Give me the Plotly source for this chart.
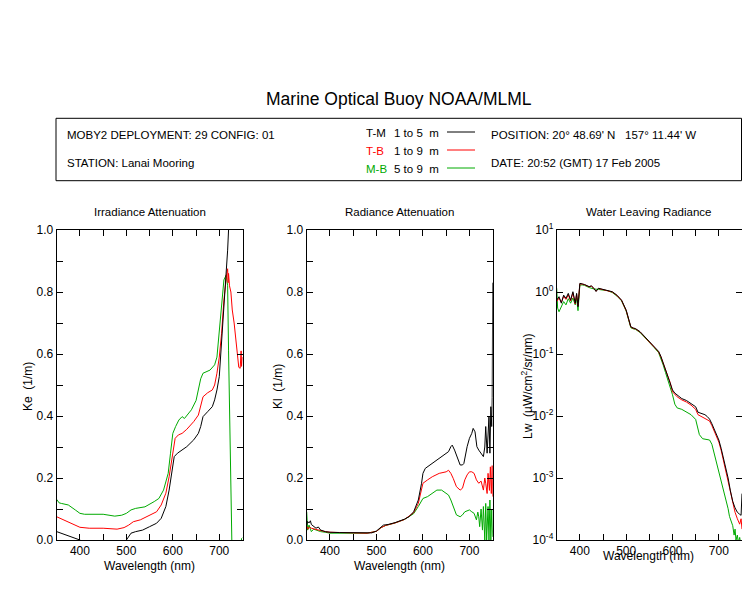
import plotly.graph_objects as go

# ---------------- data ----------------
# Irradiance attenuation Ke (1/m)
ke_wl_tm = [350, 360, 370, 380, 390, 400, 410, 430, 460, 490, 500, 505, 510, 520, 535, 550, 565, 575, 585, 592,
            597, 600, 603, 610, 620, 630, 645, 655, 660, 665, 675, 685, 690, 695, 700, 705, 710, 713, 716, 718,
            720, 723, 730, 740, 750]
ke_tm = [0.027, 0.022, 0.016, 0.011, 0.005, 0.0, -0.01, -0.02, -0.02, -0.01, 0.0, 0.012, 0.022, 0.027, 0.032,
         0.043, 0.054, 0.07, 0.108, 0.161, 0.215, 0.247, 0.269, 0.28, 0.29, 0.301, 0.323, 0.344, 0.366, 0.398,
         0.414, 0.43, 0.452, 0.484, 0.527, 0.634, 0.742, 0.817, 0.882, 0.935, 1.0, 1.1, 1.2, 1.2, 1.2]

ke_wl_tb = [350, 360, 370, 380, 390, 400, 420, 450, 480, 495, 505, 515, 530, 550, 565, 575, 585, 592, 597, 600,
            605, 612, 620, 630, 645, 655, 660, 665, 675, 685, 690, 695, 700, 705, 710, 713, 716, 718, 719, 720,
            722, 725, 728, 732, 736, 740, 742, 745, 747, 748, 750]
ke_tb = [0.075, 0.068, 0.061, 0.055, 0.048, 0.041, 0.038, 0.038, 0.035, 0.040, 0.048, 0.059, 0.065, 0.081, 0.091,
         0.113, 0.151, 0.204, 0.258, 0.290, 0.328, 0.339, 0.344, 0.357, 0.382, 0.403, 0.430, 0.462, 0.475, 0.484,
         0.500, 0.538, 0.590, 0.667, 0.774, 0.828, 0.860, 0.875, 0.83, 0.86, 0.82, 0.80, 0.742, 0.700, 0.645,
         0.590, 0.557, 0.554, 0.61, 0.56, 0.59]

ke_wl_mb = [350, 355, 360, 375, 390, 400, 410, 450, 475, 490, 500, 510, 520, 540, 560, 570, 580, 590, 595, 600,
            606, 613, 620, 625, 640, 650, 660, 665, 680, 690, 695, 700, 705, 710, 715, 718, 720, 722, 725, 727,
            729, 745, 748, 750]
ke_mb = [0.131, 0.12, 0.118, 0.113, 0.097, 0.086, 0.083, 0.083, 0.077, 0.08, 0.086, 0.097, 0.102, 0.107, 0.124,
         0.134, 0.161, 0.215, 0.28, 0.344, 0.366, 0.387, 0.398, 0.392, 0.42, 0.45, 0.52, 0.538, 0.548, 0.565,
         0.59, 0.667, 0.763, 0.839, 0.855, 0.82, 0.61, 0.43, 0.129, 0.0, -0.05, -0.05, 0.005, 0.008]

# Radiance attenuation Kl (1/m)
kl_wl_tm = [350, 352, 355, 358, 360, 365, 370, 375, 380, 390, 400, 420, 450, 470, 480, 490, 500, 510, 515, 525,
            540, 560, 570, 580, 590, 597, 600, 605, 615, 625, 640, 655, 660, 663, 668, 675, 680, 685, 688, 695,
            700, 705, 708, 712, 716, 720, 725, 730, 733, 735, 738, 740, 742, 744, 746, 748, 749, 750]
kl_tm = [0.048, 0.06, 0.055, 0.062, 0.05, 0.045, 0.038, 0.042, 0.032, 0.027, 0.025, 0.024, 0.024, 0.022, 0.022,
         0.023, 0.029, 0.04, 0.048, 0.05, 0.056, 0.067, 0.075, 0.091, 0.129, 0.183, 0.215, 0.231, 0.242, 0.253,
         0.269, 0.285, 0.301, 0.306, 0.29, 0.258, 0.242, 0.242, 0.247, 0.301, 0.328, 0.344, 0.36, 0.349, 0.301,
         0.29, 0.28, 0.269, 0.30, 0.366, 0.28, 0.323, 0.398, 0.28, 0.43, 0.366, 0.46, 0.83]

kl_wl_tb = [350, 353, 356, 360, 370, 380, 390, 400, 450, 480, 500, 510, 520, 540, 560, 580, 590, 597, 600, 610,
            620, 635, 650, 655, 660, 665, 672, 680, 685, 690, 695, 700, 705, 710, 715, 720, 725, 730, 733, 735,
            738, 740, 743, 745, 747, 749, 750]
kl_tb = [0.045, 0.035, 0.042, 0.038, 0.034, 0.03, 0.027, 0.025, 0.023, 0.022, 0.028, 0.04, 0.047, 0.055, 0.066,
         0.088, 0.118, 0.161, 0.183, 0.194, 0.204, 0.215, 0.22, 0.225, 0.215, 0.199, 0.172, 0.161, 0.167, 0.194,
         0.21, 0.22, 0.22, 0.215, 0.194, 0.183, 0.19, 0.161, 0.20, 0.183, 0.15, 0.215, 0.16, 0.236, 0.15, 0.24,
         0.14]

kl_wl_mb = [350, 351, 352, 355, 358, 360, 365, 370, 380, 390, 400, 450, 480, 500, 510, 520, 540, 560, 580, 590,
            597, 600, 610, 620, 630, 640, 650, 655, 660, 665, 672, 680, 685, 690, 695, 700, 705, 710, 715, 718,
            720, 722, 725, 728, 730, 733, 735, 737, 740, 742, 744, 746, 748, 750]
kl_mb = [0.091, 0.06, 0.032, 0.048, 0.03, 0.027, 0.035, 0.032, 0.027, 0.025, 0.022, 0.022, 0.022, 0.028, 0.04,
         0.047, 0.055, 0.066, 0.085, 0.108, 0.129, 0.134, 0.14, 0.15, 0.161, 0.161, 0.15, 0.145, 0.129, 0.108,
         0.081, 0.075, 0.081, 0.091, 0.095, 0.097, 0.091, 0.086, 0.065, 0.09, 0.075, 0.043, 0.10, 0.032, 0.108,
         0.0, 0.118, 0.0, 0.108, 0.0, 0.129, 0.0, 0.097, 0.01]

# Water leaving radiance Lw (uW/cm^2/sr/nm)
lw_wl = [350, 355, 360, 365, 370, 375, 380, 385, 390, 393, 396, 398, 400, 405, 410, 420, 425, 430, 435, 440,
         450, 460, 470, 480, 490, 500, 505, 510, 515, 520, 530, 540, 550, 560, 570, 575, 580, 585, 590, 595,
         600, 605, 610, 620, 630, 640, 650, 655, 660, 670, 675, 680, 685, 690, 695, 700, 705, 710, 715, 720,
         725, 730, 735, 740, 745, 748, 750]
lw_tm = [0.74, 0.84, 0.66, 0.89, 0.79, 0.95, 0.74, 1.01, 0.66, 0.95, 0.58, 0.89, 1.38, 1.35, 1.32, 1.22, 1.26,
         1.15, 1.02, 1.15, 1.10, 1.08, 1.01, 0.89, 0.74, 0.51, 0.376, 0.275, 0.263, 0.257, 0.229, 0.191, 0.158,
         0.132, 0.110, 0.0912, 0.0708, 0.0550, 0.0427, 0.0355, 0.0263, 0.0234, 0.0219, 0.0191, 0.0178, 0.0158,
         0.0141, 0.0115, 0.0112, 0.0105, 0.0098, 0.0089, 0.0075, 0.0062, 0.0051, 0.0041, 0.0030, 0.0021,
         0.0014, 0.0010, 0.00062, 0.00042, 0.00033, 0.00028, 0.00026, 0.00025, 0.00056]
lw_tb = [0.70, 0.80, 0.68, 0.85, 0.76, 0.90, 0.72, 0.97, 0.64, 0.92, 0.60, 0.86, 1.36, 1.34, 1.31, 1.21, 1.24,
         1.14, 1.03, 1.14, 1.09, 1.07, 1.00, 0.88, 0.73, 0.50, 0.37, 0.272, 0.260, 0.254, 0.226, 0.189, 0.156,
         0.130, 0.108, 0.0895, 0.0695, 0.0540, 0.0420, 0.0345, 0.0245, 0.0222, 0.0204, 0.0182, 0.0168, 0.0150,
         0.0128, 0.0105, 0.0100, 0.0093, 0.0088, 0.0083, 0.0070, 0.0058, 0.0047, 0.0038, 0.0028, 0.0019,
         0.0013, 0.00090, 0.00057, 0.00038, 0.00028, 0.00022, 0.00018, 0.00022, 0.00015]

lw_wl_mb = [350, 352, 355, 360, 365, 370, 375, 380, 385, 390, 393, 396, 398, 400, 405, 410, 420, 430, 440, 450,
            460, 470, 480, 490, 500, 505, 510, 515, 520, 530, 540, 550, 560, 570, 575, 580, 585, 590, 595, 600,
            605, 610, 620, 630, 640, 650, 655, 658, 665, 675, 680, 685, 690, 695, 700, 705, 710, 715, 720, 723,
            727, 730, 733, 735, 737, 740, 742, 745, 748, 750]
lw_mb = [1.15, 0.55, 0.48, 0.60, 0.70, 0.62, 0.78, 0.66, 0.80, 0.62, 0.80, 0.50, 0.75, 1.30, 1.30, 1.28, 1.18,
         1.12, 1.10, 1.07, 1.05, 0.98, 0.86, 0.72, 0.49, 0.36, 0.265, 0.255, 0.25, 0.222, 0.186, 0.154, 0.128,
         0.105, 0.086, 0.066, 0.050, 0.039, 0.030, 0.022, 0.0155, 0.0135, 0.0128, 0.0115, 0.0105, 0.0088,
         0.0065, 0.0050, 0.0043, 0.0042, 0.0041, 0.0035, 0.0025, 0.0017, 0.00125, 0.00085, 0.00062, 0.00045,
         0.00032, 0.00024, 0.00019, 0.00017, 0.00012, 0.00015, 0.0001, 0.00012, 0.00009, 0.00011, 0.00008,
         0.00009]

x_tickvals = [400, 450, 500, 550, 600, 650, 700]
x_ticktext = ["400", "", "500", "", "600", "", "700"]
k_tickvals = [0.0, 0.1, 0.2, 0.3, 0.4, 0.5, 0.6, 0.7, 0.8, 0.9, 1.0]
k_ticktext = ["0.0", "", "0.2", "", "0.4", "", "0.6", "", "0.8", "", "1.0"]
lw_tickvals = [1e-4, 1e-3, 1e-2, 1e-1, 1e0, 1e1]
lw_ticktext = ["10<sup>-4</sup>", "10<sup>-3</sup>", "10<sup>-2</sup>", "10<sup>-1</sup>",
               "10<sup>0</sup>", "10<sup>1</sup>"]

BLACK, RED, GREEN = "#000000", "#FF0000", "#00AA00"
FONT = "Liberation Sans, Arial, sans-serif"

# ---------------- figure ----------------
# page body has an 8px margin; size the figure so page == 750x600
OX, OY = 8, 8
W, H = 734, 584
fig = go.Figure()


def add_series(xa, ya, wl, vals, color):
    fig.add_trace(go.Scatter(x=wl, y=vals, mode="lines", line=dict(color=color, width=1),
                             xaxis=xa, yaxis=ya, showlegend=False, hoverinfo="x+y"))


for xa, ya, sets in [
    ("x", "y", [(ke_wl_mb, ke_mb, GREEN), (ke_wl_tb, ke_tb, RED), (ke_wl_tm, ke_tm, BLACK)]),
    ("x2", "y2", [(kl_wl_mb, kl_mb, GREEN), (kl_wl_tb, kl_tb, RED), (kl_wl_tm, kl_tm, BLACK)]),
    ("x3", "y3", [(lw_wl_mb, lw_mb, GREEN), (lw_wl, lw_tb, RED), (lw_wl, lw_tm, BLACK)]),
]:
    for wl, vals, c in sets:
        add_series(xa, ya, wl, vals, c)


def px(x):
    return (x - OX) / W


def py(y):
    return 1 - (y - OY) / H


def clamp(v):
    return max(0.0, min(1.0, v))


# panel pixel boxes in page coordinates (left, right)
panels = [(56.7, 242.5), (306.7, 492.7), (556.7, 742.0)]
top_px, bot_px = 230, 540
ydom = [py(bot_px), py(top_px)]

axis_common = dict(showline=True, linecolor="black", linewidth=1, mirror="allticks", ticks="inside",
                   ticklen=6, tickcolor="black", showgrid=False, zeroline=False, automargin=False,
                   tickfont=dict(family=FONT, size=12, color="black"))

layout = dict(width=W, height=H, autosize=False,
              margin=dict(l=0, r=0, t=0, b=0, pad=0, autoexpand=False),
              paper_bgcolor="white", plot_bgcolor="white", showlegend=False,
              font=dict(family=FONT, color="black"))
for i, (l, r) in enumerate(panels):
    sfx = "" if i == 0 else str(i + 1)
    layout["xaxis" + sfx] = dict(domain=[clamp(px(l)), clamp(px(r))], range=[350, 750], tickmode="array",
                                 tickvals=x_tickvals, ticktext=x_ticktext, anchor="y" + sfx, **axis_common)
    if i < 2:
        layout["yaxis" + sfx] = dict(domain=ydom, range=[0, 1], tickmode="array", tickvals=k_tickvals,
                                     ticktext=k_ticktext, anchor="x" + sfx, **axis_common)
    else:
        layout["yaxis" + sfx] = dict(domain=ydom, type="log", range=[-4, 1], tickmode="array",
                                     tickvals=lw_tickvals, ticktext=lw_ticktext, anchor="x" + sfx,
                                     **axis_common)
fig.update_layout(**layout)


def txt(x, y, s, size=12, color="black", xanchor="left", angle=0):
    fig.add_annotation(x=px(x), y=py(y), xref="paper", yref="paper", text=s, showarrow=False,
                       xanchor=xanchor, yanchor="middle", textangle=angle,
                       font=dict(family=FONT, size=size, color=color))


# title
txt(399, 99, "Marine Optical Buoy NOAA/MLML", size=17.5, xanchor="center")

# header box
fig.add_shape(type="rect", xref="paper", yref="paper", x0=px(56), x1=px(741.5), y0=py(180.7), y1=py(118.3),
              line=dict(color="black", width=1))
txt(65, 135, "MOBY2 DEPLOYMENT: 29 CONFIG: 01", size=11.5)
txt(65, 163, "STATION: Lanai Mooring", size=11.5)
txt(489, 135, "POSITION: 20° 48.69' N   157° 11.44' W", size=11.5)
txt(489, 163, "DATE: 20:52 (GMT) 17 Feb 2005", size=11.5)

legend_rows = [("T-M", "1 to 5  m", BLACK, 133), ("T-B", "1 to 9  m", RED, 151), ("M-B", "5 to 9  m", GREEN, 169)]
for code, rng, color, yy in legend_rows:
    txt(364, yy, code, size=11.5, color=color)
    txt(391.5, yy, rng, size=11.5)
    fig.add_shape(type="line", xref="paper", yref="paper", x0=px(447), x1=px(475), y0=py(yy - 1),
                  y1=py(yy - 1), line=dict(color=color, width=1))

# subplot titles
for (l, r), t in zip(panels, ["Irradiance Attenuation", "Radiance Attenuation", "Water Leaving Radiance"]):
    txt((l + r) / 2, 212, t, size=11.5, xanchor="center")

# x axis titles
txt(149, 566, "Wavelength (nm)", size=12, xanchor="center")
txt(399, 566, "Wavelength (nm)", size=12, xanchor="center")
txt(648, 556, "Wavelength (nm)", size=12, xanchor="center")

# y axis titles
txt(28, 387, "Ke  (1/m)", size=12, xanchor="center", angle=-90)
txt(278, 387, "Kl  (1/m)", size=12, xanchor="center", angle=-90)
txt(527, 386, "Lw  (µW/cm<sup>2</sup>/sr/nm)", size=12, xanchor="center", angle=-90)

fig.write_html("out.html")
